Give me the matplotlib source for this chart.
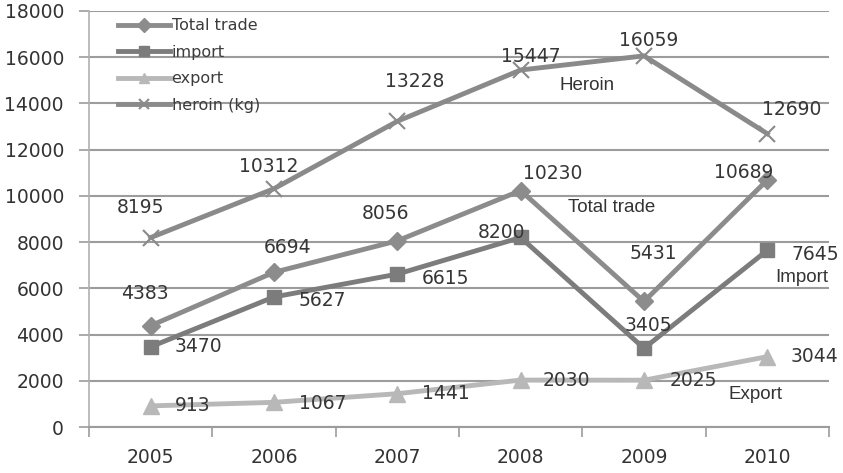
import matplotlib
matplotlib.use("Agg")
import matplotlib.pyplot as plt
from matplotlib.ticker import FixedLocator, NullFormatter

years = ["2005", "2006", "2007", "2008", "2009", "2010"]
total_trade = [4383, 6694, 8056, 10230, 5431, 10689]
import_vals = [3470, 5627, 6615, 8200, 3405, 7645]
export_vals = [913, 1067, 1441, 2030, 2025, 3044]
heroin = [8195, 10312, 13228, 15447, 16059, 12690]

# label offsets in pixels (dx, dy)
off_total = [(-6, 32), (14, 25), (-12, 27), (32, 17), (9, 48), (-24, 7)]
off_import = [(48, 0), (48, -4), (48, -4), (-19, 5), (4, 23), (48, -4)]
off_export = [(42, 0), (49, -1), (49, 0), (46, 0), (49, 0), (47, 0)]
off_heroin = [(-10, 30), (-5, 22), (17, 40), (10, 14), (5, 15), (24, 24)]

W, H = 843, 473
fig = plt.figure(figsize=(W / 100, H / 100), dpi=100)
ax = fig.add_axes([89 / W, 1 - 427 / H, (829 - 89) / W, (427 - 11) / H])

x = list(range(len(years)))
grid_c = "#9c9c9c"

ax.plot(x, heroin, color="#8a8a8a", lw=3.5, marker="x", ms=12, mew=1.5,
        label="heroin (kg)", zorder=3)
ax.plot(x, total_trade, color="#8c8c8c", lw=3.5, marker="D", ms=9,
        label="Total trade", zorder=4)
ax.plot(x, import_vals, color="#7c7c7c", lw=3.5, marker="s", ms=10,
        label="import", zorder=5)
ax.plot(x, export_vals, color="#b8b8b8", lw=3.5, marker="^", ms=12,
        label="export", zorder=6)

lab_kw = dict(textcoords="offset pixels", ha="center", va="center",
              fontsize=13.5, color="#363636", family="DejaVu Sans", zorder=7)
for vals, offs in [(heroin, off_heroin), (total_trade, off_total),
                   (import_vals, off_import), (export_vals, off_export)]:
    for xi, v, o in zip(x, vals, offs):
        ax.annotate(str(v), (xi, v), xytext=o, **lab_kw)

ann_kw = dict(fontsize=13.5, color="#333333", family="Liberation Sans",
              ha="center", va="center", zorder=7)
ax.text(3.54, 14755, "Heroin", **ann_kw)
ax.text(3.74, 9476, "Total trade", **ann_kw)
ax.text(5.28, 6490, "Import", **ann_kw)
ax.text(4.90, 1385, "Export", **ann_kw)

ax.set_xlim(-0.5, 5.5)
ax.set_ylim(0, 18000)
ax.set_yticks(range(0, 18001, 2000))
ax.set_xticks(x)
ax.set_xticklabels(years)
ax.xaxis.set_minor_locator(FixedLocator([i - 0.5 for i in range(7)]))
ax.xaxis.set_minor_formatter(NullFormatter())
ax.tick_params(axis="x", which="major", length=0, pad=15, labelsize=13.5,
               labelcolor="#333333")
ax.tick_params(axis="x", which="minor", length=7, width=1.2, color=grid_c)
ax.tick_params(axis="y", length=7, width=1.2, color=grid_c, pad=11,
               labelsize=13.5, labelcolor="#333333")
ax.grid(axis="y", color=grid_c, lw=1.5, zorder=0)
ax.set_axisbelow(True)
for s in ["top", "right"]:
    ax.spines[s].set_visible(False)
ax.spines["left"].set_color("#b0b0b0")
ax.spines["left"].set_linewidth(1.2)
ax.spines["bottom"].set_color(grid_c)
ax.spines["bottom"].set_linewidth(1.5)

handles, labels = ax.get_legend_handles_labels()
order = [1, 2, 3, 0]
leg = ax.legend([handles[i] for i in order], [labels[i] for i in order],
                loc="upper left", bbox_to_anchor=(0.035, 0.99), frameon=False,
                fontsize=11.5, handlelength=3.25, labelspacing=0.72,
                handletextpad=0.1, borderpad=0.2, borderaxespad=0)
for t in leg.get_texts():
    t.set_color("#3c3c3c")
for h in leg.legend_handles:
    h.set_markersize(7)

fig.savefig("out.png", dpi=100)
